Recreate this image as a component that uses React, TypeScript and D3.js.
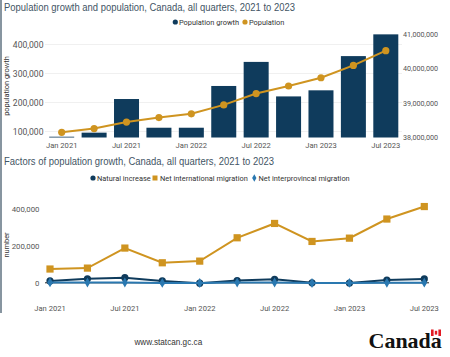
import React from "react";
import * as d3 from "d3";

const quarters = ["2021Q1","2021Q2","2021Q3","2021Q4","2022Q1","2022Q2","2022Q3","2022Q4","2023Q1","2023Q2","2023Q3"];
const tickQuarters = ["2021Q1","2021Q3","2022Q1","2022Q3","2023Q1","2023Q3"];
const tickLabels = ["Jan 2021","Jul 2021","Jan 2022","Jul 2022","Jan 2023","Jul 2023"];

const populationGrowth = [82000, 96000, 212000, 113000, 113000, 257000, 340000, 221000, 242000, 360000, 435000];
const population = [38150000, 38260000, 38450000, 38580000, 38690000, 38950000, 39280000, 39500000, 39740000, 40100000, 40530000];

const naturalIncrease = [10000, 22000, 28000, 10000, -2000, 12000, 19000, 0, -1000, 15000, 21000];
const netInternational = [75000, 80000, 189000, 109000, 118000, 245000, 323000, 225000, 243000, 347000, 415000];
const netInterprovincial = [2000, 1000, 1500, -500, -1000, 1000, 1500, -1000, -500, 500, 800];

const leftTicks = [100000, 200000, 300000, 400000];
const rightTicks = [38000000, 39000000, 40000000, 41000000];
const bottomTicks = [0, 200000, 400000];

const NAVY = "#0f3b5c";
const GOLD = "#cf9420";
const BLUE = "#2a78b0";
const AXIS = "#555";
const TITLE = "#3f5565";
const FONT = "Roboto, 'Liberation Sans', sans-serif";
const TFONT = "'Liberation Sans', Arial, sans-serif";

export default function App() {
  const W = 450, H = 357;
  const fmt = d3.format(",");

  // top chart
  const xTop = d3.scalePoint<string>().domain(quarters).range([61.7, 385.8]);
  const barW = 25;
  const yL = d3.scaleLinear().domain([79300, 434500]).range([137.5, 34.5]);
  const yR = d3.scaleLinear().domain([38000000, 41000000]).range([137.5, 34.5]);
  const popLine = d3.line<number>().x((_, i) => xTop(quarters[i])!).y(d => yR(d));

  // bottom chart
  const xB = d3.scalePoint<string>().domain(quarters).range([50, 424.3]);
  const yB = d3.scaleLinear().domain([0, 400000]).range([282.8, 209.3]);
  const lineB = d3.line<number>().x((_, i) => xB(quarters[i])!).y(d => yB(d));
  const diamond = d3.symbol().type(d3.symbolDiamond).size(28)()!;

  return (
    <svg width={W} height={H} style={{ position: "absolute", left: 0, top: 0, background: "#fff" }}>
      <rect x={0} y={0} width={2} height={313} fill="#8795a0" />

      {/* top title and legend */}
      <text x={4} y={11} fontFamily={TFONT} fontSize={10} fill={TITLE} textLength={291} lengthAdjust="spacingAndGlyphs">Population growth and population, Canada, all quarters, 2021 to 2023</text>
      <circle cx={175.3} cy={22} r={2.6} fill={NAVY} />
      <text x={179} y={24.6} fontFamily={FONT} fontSize={7.4} fill="#333">Population growth</text>
      <circle cx={245} cy={22} r={2.6} fill={GOLD} />
      <text x={249} y={24.6} fontFamily={FONT} fontSize={7.4} fill="#333">Population</text>

      {/* top gridlines */}
      {leftTicks.map(t => (
        <line key={t} x1={45} x2={402} y1={yL(t)} y2={yL(t)} stroke="#f0f0f0" strokeWidth={1} />
      ))}
      {leftTicks.map(t => (
        <text key={t} x={43.5} y={yL(t)} dy="0.35em" textAnchor="end" fontFamily={FONT} fontSize={8.6} fill={AXIS}>{fmt(t)}</text>
      ))}
      {rightTicks.map(t => (
        <text key={t} x={403} y={yR(t)} dy="0.35em" fontFamily={FONT} fontSize={7.2} fill={AXIS}>{fmt(t)}</text>
      ))}
      <text transform="translate(8.5,86) rotate(-90)" textAnchor="middle" fontFamily={FONT} fontSize={7.4} fill="#333">population growth</text>

      {populationGrowth.map((v, i) => (
        <rect key={i} x={xTop(quarters[i])! - barW / 2} y={yL(v)} width={barW} height={137.5 - yL(v)} fill={NAVY} />
      ))}
      <path d={popLine(population)!} fill="none" stroke={GOLD} strokeWidth={2} />
      {population.map((v, i) => (
        <circle key={i} cx={xTop(quarters[i])!} cy={yR(v)} r={3.6} fill={GOLD} />
      ))}
      {tickQuarters.map((q, i) => (
        <text key={q} x={xTop(q)!} y={145} dy="0.35em" textAnchor="middle" fontFamily={FONT} fontSize={7.6} fill={AXIS}>{tickLabels[i]}</text>
      ))}

      {/* bottom title and legend */}
      <text x={4} y={165} fontFamily={TFONT} fontSize={10} fill={TITLE} textLength={270} lengthAdjust="spacingAndGlyphs">Factors of population growth, Canada, all quarters, 2021 to 2023</text>
      <circle cx={93} cy={178} r={2.6} fill={NAVY} />
      <text x={97} y={180.6} fontFamily={FONT} fontSize={7.4} fill="#333">Natural increase</text>
      <rect x={152.5} y={175.5} width={5} height={5} fill={GOLD} />
      <text x={160} y={180.6} fontFamily={FONT} fontSize={7.4} fill="#333">Net international migration</text>
      <path d={d3.symbol().type(d3.symbolDiamond).size(16)()!} transform="translate(254.3,178)" fill={BLUE} />
      <text x={258.5} y={180.6} fontFamily={FONT} fontSize={7.4} fill="#333">Net interprovincal migration</text>

      {bottomTicks.map(t => (
        <text key={t} x={39.5} y={yB(t)} dy="0.35em" textAnchor="end" fontFamily={FONT} fontSize={7.8} fill={AXIS}>{fmt(t)}</text>
      ))}
      <text transform="translate(8.5,245) rotate(-90)" textAnchor="middle" fontFamily={FONT} fontSize={7.4} fill="#333">number</text>
      <line x1={45} x2={429} y1={yB(0)} y2={yB(0)} stroke="#222" strokeWidth={1} />

      <path d={lineB(netInternational)!} fill="none" stroke={GOLD} strokeWidth={2} />
      {netInternational.map((v, i) => (
        <rect key={i} x={xB(quarters[i])! - 3.6} y={yB(v) - 3.6} width={7.2} height={7.2} fill={GOLD} />
      ))}
      <path d={lineB(naturalIncrease)!} fill="none" stroke={NAVY} strokeWidth={2} />
      {naturalIncrease.map((v, i) => (
        <circle key={i} cx={xB(quarters[i])!} cy={yB(v)} r={3.6} fill={NAVY} />
      ))}
      <path d={lineB(netInterprovincial)!} fill="none" stroke={BLUE} strokeWidth={2} />
      {netInterprovincial.map((v, i) => (
        <path key={i} d={diamond} transform={`translate(${xB(quarters[i])},${yB(v)})`} fill={BLUE} />
      ))}
      {tickQuarters.map((q, i) => (
        <text key={q} x={xB(q)!} y={308.5} dy="0.35em" textAnchor="middle" fontFamily={FONT} fontSize={7.6} fill={AXIS}>{tickLabels[i]}</text>
      ))}

      {/* footer */}
      <text x={168.3} y={345.3} textAnchor="middle" fontFamily={TFONT} fontSize={8.2} fill="#333">www.statcan.gc.ca</text>
      <text x={368.5} y={347.5} fontFamily="'Liberation Serif', 'DejaVu Serif', serif" fontSize={22} fontWeight={700} fill="#111">Canada</text>
      <rect x={431} y={329.5} width={2.6} height={6.5} fill="#e21b24" />
      <rect x={438.4} y={329.5} width={2.6} height={6.5} fill="#e21b24" />
      <rect x={434.8} y={330.8} width={2.4} height={3.8} fill="#e21b24" />
    </svg>
  );
}
